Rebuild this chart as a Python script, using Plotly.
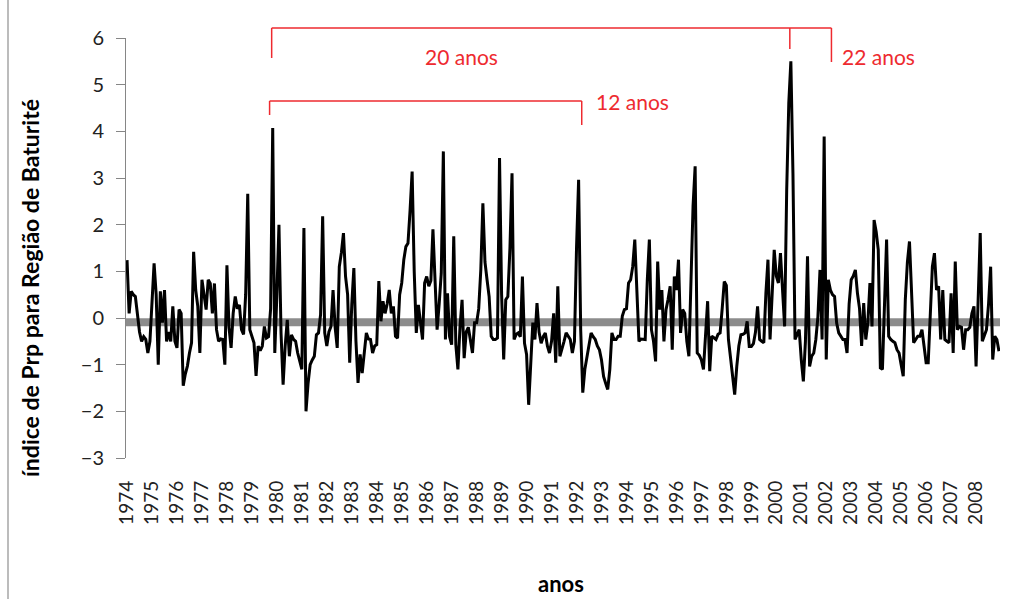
import plotly.graph_objects as go

# ---- data (monthly index values, Jan 1974 .. Dec 2008) ----
years = list(range(1974, 2009))
v1974 = [1.24, 0.10, 0.57, 0.50, 0.46, 0.10, -0.30, -0.50, -0.40, -0.46, -0.75, -0.50]
v1975 = [0.30, 1.17, 0.50, -1.00, 0.57, -0.10, 0.60, -0.50, -0.30, -0.50, 0.25, -0.50]
v1976 = [-0.64, 0.18, 0.10, -1.45, -1.20, -1.03, -0.75, -0.53, 1.42, 0.60, 0.25, -0.75]
v1977 = [0.82, 0.50, 0.18, 0.82, 0.74, 0.10, 0.74, -0.25, -0.50, -0.45, -0.46, -1.00]
v1978 = [1.13, -0.20, -0.64, 0.10, 0.46, 0.20, 0.28, -0.25, -0.35, 0.50, 2.66, -0.25]
v1979 = [-0.40, -0.53, -1.24, -0.60, -0.70, -0.60, -0.18, -0.43, -0.40, 0.20, 4.07, -0.75]
v1980 = [0.50, 2.00, -0.32, -1.43, -0.60, -0.04, -0.82, -0.36, -0.46, -0.50, -0.75, -0.90]
v1981 = [-1.10, 1.93, -2.00, -1.40, -1.00, -0.90, -0.82, -0.36, -0.32, 0.07, 2.18, -0.32]
v1982 = [-0.60, -0.30, -0.18, 0.60, -0.20, -0.64, 1.10, 1.40, 1.82, 0.89, 0.50, -0.96]
v1983 = [0.30, 1.07, -0.50, -1.39, -0.78, -1.18, -0.70, -0.32, -0.45, -0.46, -0.75, -0.60]
v1984 = [-0.57, 0.79, -0.07, 0.36, 0.10, 0.30, 0.60, 0.10, 0.25, -0.39, -0.43, 0.50]
v1985 = [0.75, 1.25, 1.53, 1.60, 2.30, 3.14, 1.00, -0.32, 0.28, -0.10, -0.46, 0.75]
v1986 = [0.89, 0.68, 0.80, 1.90, 0.60, -0.25, 0.30, 0.96, 3.57, -0.46, 0.53, -0.40]
v1987 = [-0.57, 1.75, -0.57, -1.10, -0.20, 0.39, -0.86, -0.30, -0.20, -0.46, -0.75, -0.10]
v1988 = [-0.10, 0.20, 1.03, 2.46, 1.20, 0.82, 0.46, -0.39, -0.46, -0.46, -0.43, 3.43]
v1989 = [0.50, -0.89, 0.39, 0.46, 1.50, 3.10, -0.46, -0.35, -0.32, -0.40, 0.89, -0.54]
v1990 = [-0.78, -1.86, -0.80, -0.10, -0.46, 0.32, -0.30, -0.54, -0.40, -0.32, -0.60, -0.75]
v1991 = [-0.50, 0.10, -0.96, 0.68, -0.82, -0.68, -0.50, -0.32, -0.40, -0.46, -0.75, -0.50]
v1992 = [1.50, 2.96, -0.25, -1.60, -1.10, -0.82, -0.50, -0.32, -0.40, -0.46, -0.60, -0.68]
v1993 = [-0.90, -1.25, -1.40, -1.53, -1.10, -0.32, -0.46, -0.46, -0.39, -0.39, 0.04, 0.18]
v1994 = [0.20, 0.75, 0.82, 1.10, 1.68, 0.60, -0.50, -0.45, -0.46, -0.46, 0.80, 1.68]
v1995 = [-0.25, -0.50, -0.93, 1.21, 0.18, 0.60, -0.50, 0.18, 0.40, 0.68, -0.68, 0.89]
v1996 = [0.60, 1.25, -0.32, 0.18, 0.10, -0.50, -0.82, 0.75, 2.40, 3.25, -0.75, -0.80]
v1997 = [-0.90, -1.10, -0.40, 0.36, -1.14, -0.39, -0.42, -0.46, -0.35, -0.32, 0.20, 0.78]
v1998 = [0.70, -0.46, -0.85, -1.20, -1.64, -1.04, -0.60, -0.36, -0.35, -0.32, -0.07, -0.61]
v1999 = [-0.61, -0.55, -0.30, 0.25, -0.46, -0.50, -0.53, 0.53, 1.25, -0.46, 0.53, 1.46]
v2000 = [0.90, 0.75, 1.39, 0.60, -0.18, 2.75, 4.60, 5.50, 3.10, -0.46, -0.35, -0.25]
v2001 = [-0.89, -1.36, -0.50, 1.32, -1.04, -0.82, -0.75, -0.46, 0.03, 1.03, -0.46, 3.89]
v2002 = [-0.89, 0.82, 0.60, 0.50, 0.46, -0.11, -0.32, -0.39, -0.46, -0.46, -0.75, 0.30]
v2003 = [0.82, 0.90, 1.03, 0.53, 0.20, -0.60, 0.32, -0.46, -0.10, 0.75, -0.18, 2.10]
v2004 = [1.85, 1.46, -1.07, -1.10, 0.10, 1.68, -0.39, -0.46, -0.50, -0.53, -0.68, -0.75]
v2005 = [-1.00, -1.25, 0.40, 1.20, 1.64, 0.50, -0.53, -0.46, -0.39, -0.39, -0.25, -0.60]
v2006 = [-0.96, -0.96, 0.03, 1.10, 1.39, 0.60, 0.68, -0.46, 0.60, -0.46, -0.50, -0.53]
v2007 = [0.53, -0.75, 1.21, -0.25, -0.18, -0.20, -0.68, -0.25, -0.25, -0.20, 0.10, 0.25]
v2008 = [-1.04, 0.30, 1.82, -0.50, -0.39, -0.25, 0.30, 1.10, -0.89, -0.39, -0.46, -0.71]

series = (v1974 + v1975 + v1976 + v1977 + v1978 + v1979 + v1980 + v1981 + v1982 + v1983
          + v1984 + v1985 + v1986 + v1987 + v1988 + v1989 + v1990 + v1991 + v1992 + v1993
          + v1994 + v1995 + v1996 + v1997 + v1998 + v1999 + v2000 + v2001 + v2002 + v2003
          + v2004 + v2005 + v2006 + v2007 + v2008)
months = list(range(len(series)))
tick_labels = [str(y) for y in years]
tick_pos = [12 * k for k in range(len(years))]

bracket_labels = ["20 anos", "12 anos", "22 anos"]

# ---- layout geometry (pixels) ----
W, H = 1016, 599
L, R, T, B = 126, 16, 38, 141
PW, PH = W - L - R, H - T - B
N = len(series)


def px(i):
    return (i + 0.5) / N


def py(ypix):
    return (H - B - ypix) / PH


def pxx(xpix):
    return (xpix - L) / PW


RED = "#EE2A2F"

fig = go.Figure()
fig.add_trace(go.Scatter(x=months, y=series, mode="lines",
                         line=dict(color="#000000", width=3), showlegend=False,
                         hoverinfo="skip"))

shapes = [
    # grey zero band
    dict(type="line", xref="paper", yref="y", x0=0, x1=1, y0=-0.09, y1=-0.09,
         line=dict(color="#8C8C8C", width=8), layer="below"),
    # top bracket (20 / 22 anos)
    dict(type="line", xref="paper", yref="paper", x0=px(69.5), x1=px(338.5),
         y0=py(28), y1=py(28), line=dict(color=RED, width=1.5)),
    dict(type="line", xref="paper", yref="paper", x0=px(69.5), x1=px(69.5),
         y0=py(28), y1=py(58), line=dict(color=RED, width=1.5)),
    dict(type="line", xref="paper", yref="paper", x0=px(318.5), x1=px(318.5),
         y0=py(28), y1=py(49), line=dict(color=RED, width=1.5)),
    dict(type="line", xref="paper", yref="paper", x0=px(338.5), x1=px(338.5),
         y0=py(28), y1=py(62), line=dict(color=RED, width=1.5)),
    # lower bracket (12 anos)
    dict(type="line", xref="paper", yref="paper", x0=px(68.5), x1=px(218.5),
         y0=py(101), y1=py(101), line=dict(color=RED, width=1.5)),
    dict(type="line", xref="paper", yref="paper", x0=px(68.5), x1=px(68.5),
         y0=py(101), y1=py(115), line=dict(color=RED, width=1.5)),
    dict(type="line", xref="paper", yref="paper", x0=px(218.5), x1=px(218.5),
         y0=py(101), y1=py(125), line=dict(color=RED, width=1.5)),
    # outer chart border (left edge)
    dict(type="line", xref="paper", yref="paper", x0=pxx(8), x1=pxx(8),
         y0=py(599), y1=py(0), line=dict(color="#A6A6A6", width=1.5)),
]

annotations = [
    dict(text=bracket_labels[0], x=pxx(461), y=py(57), xref="paper", yref="paper",
         xanchor="center", yanchor="middle", showarrow=False,
         font=dict(color=RED, size=21, family="Lato")),
    dict(text=bracket_labels[1], x=pxx(632), y=py(101), xref="paper", yref="paper",
         xanchor="center", yanchor="middle", showarrow=False,
         font=dict(color=RED, size=21, family="Lato")),
    dict(text=bracket_labels[2], x=pxx(878), y=py(57), xref="paper", yref="paper",
         xanchor="center", yanchor="middle", showarrow=False,
         font=dict(color=RED, size=21, family="Lato")),
    dict(text="<b>anos</b>", x=pxx(561), y=py(583), xref="paper", yref="paper",
         xanchor="center", yanchor="middle", showarrow=False,
         font=dict(color="#000", size=22, family="Lato")),
    dict(text="<b>índice de Prp para Região de Baturité</b>", x=pxx(30), y=py(288),
         xref="paper", yref="paper", textangle=-90, xanchor="center", yanchor="middle",
         showarrow=False, font=dict(color="#000", size=23, family="Lato")),
]

fig.update_layout(
    width=W, height=H,
    margin=dict(l=L, r=R, t=T, b=B, pad=0),
    paper_bgcolor="white", plot_bgcolor="white",
    font=dict(family="Lato", size=19, color="#222"),
    shapes=shapes, annotations=annotations,
    xaxis=dict(range=[-0.5, N - 0.5], tickmode="array", tickvals=tick_pos,
               ticktext=tick_labels, tickangle=-90, showgrid=False, zeroline=False,
               showline=False, ticks="",
               ticklabelstandoff=18, tickfont=dict(size=19, family="Lato", color="#222")),
    yaxis=dict(range=[-3, 6], tickmode="array", tickvals=list(range(-3, 7)),
               showgrid=False, zeroline=False, showline=True, linecolor="#868686",
               linewidth=1, ticks="outside", ticklen=9, tickcolor="#868686",
               ticklabelstandoff=8, tickfont=dict(size=20, family="Lato", color="#222")),
)

fig.write_html("out.html")
